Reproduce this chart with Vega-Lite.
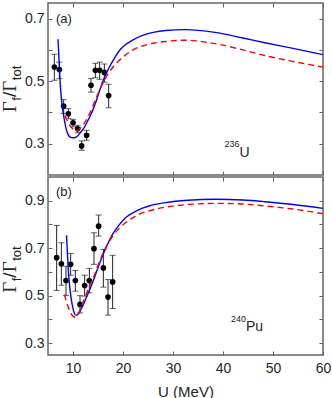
{
  "$schema": "https://vega.github.io/schema/vega-lite/v6.json",
  "padding": {"left": 0, "top": 1, "right": 0, "bottom": 0},
  "spacing": 2,
  "bounds": "flush",
  "config": {
    "view": {"stroke": "#666666", "strokeWidth": 1.5},
    "axis": {"domain": false, "grid": false, "tickSize": -4, "tickColor": "#666666", "tickWidth": 1, "labelFont": "Liberation Sans", "labelFontSize": 14, "labelColor": "#262626", "labelFlush": false, "labelOverlap": false, "titleFont": "Liberation Sans", "titleFontSize": 15, "titleFontWeight": "normal", "titleColor": "#262626"},
    "axisX": {"labelPadding": 10},
    "axisY": {"labelPadding": 8}
  },
  "datasets": {
    "one": [{}],
    "ptsA": [
      {"U": 6.27, "val": 0.545, "lo": 0.503, "hi": 0.586},
      {"U": 7.27, "val": 0.537, "lo": 0.508, "hi": 0.561},
      {"U": 8.13, "val": 0.42, "lo": 0.397, "hi": 0.441},
      {"U": 9.07, "val": 0.396, "lo": 0.38, "hi": 0.412},
      {"U": 10.0, "val": 0.367, "lo": 0.354, "hi": 0.378},
      {"U": 10.93, "val": 0.348, "lo": 0.335, "hi": 0.359},
      {"U": 11.73, "val": 0.293, "lo": 0.279, "hi": 0.309},
      {"U": 12.73, "val": 0.327, "lo": 0.311, "hi": 0.343},
      {"U": 13.6, "val": 0.487, "lo": 0.465, "hi": 0.509},
      {"U": 14.47, "val": 0.535, "lo": 0.511, "hi": 0.557},
      {"U": 15.33, "val": 0.535, "lo": 0.506, "hi": 0.561},
      {"U": 16.27, "val": 0.528, "lo": 0.497, "hi": 0.555},
      {"U": 17.13, "val": 0.454, "lo": 0.415, "hi": 0.49}
    ],
    "ptsB": [
      {"U": 6.73, "val": 0.66, "lo": 0.522, "hi": 0.796},
      {"U": 7.67, "val": 0.634, "lo": 0.544, "hi": 0.723},
      {"U": 8.6, "val": 0.564, "lo": 0.501, "hi": 0.624},
      {"U": 9.53, "val": 0.632, "lo": 0.586, "hi": 0.678},
      {"U": 10.47, "val": 0.564, "lo": 0.519, "hi": 0.606},
      {"U": 11.4, "val": 0.463, "lo": 0.427, "hi": 0.5},
      {"U": 12.33, "val": 0.543, "lo": 0.498, "hi": 0.586},
      {"U": 13.27, "val": 0.564, "lo": 0.512, "hi": 0.615},
      {"U": 14.2, "val": 0.698, "lo": 0.632, "hi": 0.765},
      {"U": 15.13, "val": 0.793, "lo": 0.751, "hi": 0.84},
      {"U": 16.07, "val": 0.617, "lo": 0.536, "hi": 0.695},
      {"U": 17.0, "val": 0.494, "lo": 0.418, "hi": 0.568},
      {"U": 17.93, "val": 0.558, "lo": 0.446, "hi": 0.67}
    ],
    "blueA": [
      {"U": 7.0, "val": 0.634}, {"U": 7.25, "val": 0.555}, {"U": 7.5, "val": 0.479}, {"U": 7.85, "val": 0.42}, {"U": 8.2, "val": 0.383}, {"U": 8.6, "val": 0.35}, {"U": 9.0, "val": 0.33}, {"U": 9.45, "val": 0.321}, {"U": 9.9, "val": 0.319}, {"U": 10.4, "val": 0.32}, {"U": 10.9, "val": 0.325}, {"U": 11.5, "val": 0.336}, {"U": 12.2, "val": 0.351}, {"U": 13.0, "val": 0.375}, {"U": 13.9, "val": 0.405}, {"U": 14.7, "val": 0.44}, {"U": 15.5, "val": 0.479}, {"U": 16.3, "val": 0.512}, {"U": 17.2, "val": 0.543}, {"U": 18.3, "val": 0.574}, {"U": 19.5, "val": 0.602}, {"U": 20.8, "val": 0.62}, {"U": 22.2, "val": 0.634}, {"U": 24.2, "val": 0.648}, {"U": 26.3, "val": 0.657}, {"U": 28.5, "val": 0.662}, {"U": 32.4, "val": 0.665}, {"U": 38.4, "val": 0.656}, {"U": 44, "val": 0.638}, {"U": 48.4, "val": 0.623}, {"U": 54, "val": 0.605}, {"U": 60, "val": 0.585}
    ],
    "redA": [
      {"U": 8.4, "val": 0.39}, {"U": 8.8, "val": 0.375}, {"U": 9.2, "val": 0.362}, {"U": 9.8, "val": 0.35}, {"U": 10.5, "val": 0.341}, {"U": 11.0, "val": 0.342}, {"U": 11.5, "val": 0.351}, {"U": 12.2, "val": 0.364}, {"U": 12.9, "val": 0.383}, {"U": 13.7, "val": 0.41}, {"U": 14.5, "val": 0.442}, {"U": 15.3, "val": 0.47}, {"U": 16.2, "val": 0.5}, {"U": 17.0, "val": 0.523}, {"U": 17.9, "val": 0.543}, {"U": 19.0, "val": 0.563}, {"U": 20.2, "val": 0.58}, {"U": 22.2, "val": 0.602}, {"U": 24.2, "val": 0.614}, {"U": 26.3, "val": 0.622}, {"U": 28.5, "val": 0.627}, {"U": 32.4, "val": 0.631}, {"U": 38.4, "val": 0.62}, {"U": 44, "val": 0.6}, {"U": 48.4, "val": 0.582}, {"U": 54, "val": 0.563}, {"U": 60, "val": 0.545}
    ],
    "blueB": [
      {"U": 8.7, "val": 0.754}, {"U": 8.95, "val": 0.65}, {"U": 9.2, "val": 0.568}, {"U": 9.55, "val": 0.5}, {"U": 9.9, "val": 0.456}, {"U": 10.2, "val": 0.43}, {"U": 10.5, "val": 0.418}, {"U": 10.85, "val": 0.418}, {"U": 11.2, "val": 0.427}, {"U": 11.8, "val": 0.45}, {"U": 12.5, "val": 0.484}, {"U": 13.2, "val": 0.518}, {"U": 13.9, "val": 0.554}, {"U": 14.9, "val": 0.612}, {"U": 15.9, "val": 0.667}, {"U": 16.9, "val": 0.716}, {"U": 17.9, "val": 0.758}, {"U": 19.2, "val": 0.797}, {"U": 20.5, "val": 0.828}, {"U": 21.9, "val": 0.848}, {"U": 23.2, "val": 0.863}, {"U": 25.2, "val": 0.878}, {"U": 28.5, "val": 0.892}, {"U": 33, "val": 0.902}, {"U": 38.4, "val": 0.906}, {"U": 44, "val": 0.903}, {"U": 48.4, "val": 0.896}, {"U": 54, "val": 0.884}, {"U": 60, "val": 0.868}
    ],
    "redB": [
      {"U": 8.3, "val": 0.505}, {"U": 8.9, "val": 0.46}, {"U": 9.5, "val": 0.43}, {"U": 10.0, "val": 0.413}, {"U": 10.4, "val": 0.41}, {"U": 10.9, "val": 0.418}, {"U": 11.7, "val": 0.455}, {"U": 12.5, "val": 0.498}, {"U": 13.3, "val": 0.54}, {"U": 14.2, "val": 0.582}, {"U": 15.0, "val": 0.628}, {"U": 15.9, "val": 0.674}, {"U": 17.0, "val": 0.72}, {"U": 18.2, "val": 0.758}, {"U": 19.3, "val": 0.785}, {"U": 20.5, "val": 0.807}, {"U": 21.9, "val": 0.827}, {"U": 23.2, "val": 0.843}, {"U": 25.2, "val": 0.857}, {"U": 28.5, "val": 0.873}, {"U": 33, "val": 0.884}, {"U": 38.4, "val": 0.889}, {"U": 44, "val": 0.886}, {"U": 48.4, "val": 0.878}, {"U": 54, "val": 0.865}, {"U": 60, "val": 0.845}
    ]
  },
  "vconcat": [
    {
      "width": 275,
      "height": 172,
      "resolve": {"axis": {"x": "independent", "y": "independent"}},
      "layer": [
        {
          "data": {"name": "ptsA"},
          "mark": {"type": "rule", "color": "#222222", "strokeWidth": 1},
          "encoding": {
            "x": {"field": "U", "type": "quantitative", "scale": {"domain": [5, 60], "nice": false, "zero": false}, "axis": {"orient": "bottom", "values": [10, 20, 30, 40, 50, 60], "labels": false, "title": null}},
            "y": {"field": "lo", "type": "quantitative", "scale": {"domain": [0.2, 0.75], "nice": false, "zero": false}, "axis": {"orient": "left", "values": [0.3, 0.4, 0.5, 0.6, 0.7], "labelExpr": "round(datum.value*10) % 2 === 1 ? format(datum.value, '.1f') : ''", "title": null}},
            "y2": {"field": "hi"}
          }
        },
        {
          "data": {"name": "ptsA"},
          "mark": {"type": "tick", "orient": "horizontal", "color": "#222222", "size": 6, "thickness": 1},
          "encoding": {
            "x": {"field": "U", "type": "quantitative", "scale": {"domain": [5, 60], "nice": false, "zero": false}, "axis": null},
            "y": {"field": "lo", "type": "quantitative", "scale": {"domain": [0.2, 0.75], "nice": false, "zero": false}, "axis": null}
          }
        },
        {
          "data": {"name": "ptsA"},
          "mark": {"type": "tick", "orient": "horizontal", "color": "#222222", "size": 6, "thickness": 1},
          "encoding": {
            "x": {"field": "U", "type": "quantitative", "scale": {"domain": [5, 60], "nice": false, "zero": false}, "axis": null},
            "y": {"field": "hi", "type": "quantitative", "scale": {"domain": [0.2, 0.75], "nice": false, "zero": false}, "axis": null}
          }
        },
        {
          "data": {"name": "ptsA"},
          "mark": {"type": "point", "filled": true, "color": "#000000", "size": 32, "opacity": 1},
          "encoding": {
            "x": {"field": "U", "type": "quantitative", "scale": {"domain": [5, 60], "nice": false, "zero": false}, "axis": null},
            "y": {"field": "val", "type": "quantitative", "scale": {"domain": [0.2, 0.75], "nice": false, "zero": false}, "axis": null}
          }
        },
        {
          "data": {"name": "blueA"},
          "mark": {"type": "line", "color": "#0000ff", "strokeWidth": 1.4, "interpolate": "monotone"},
          "encoding": {
            "x": {"field": "U", "type": "quantitative", "scale": {"domain": [5, 60], "nice": false, "zero": false}, "axis": {"orient": "top", "values": [10, 20, 30, 40, 50, 60], "labels": false, "title": null}},
            "y": {"field": "val", "type": "quantitative", "scale": {"domain": [0.2, 0.75], "nice": false, "zero": false}, "axis": {"orient": "right", "values": [0.3, 0.4, 0.5, 0.6, 0.7], "labels": false, "title": null}}
          }
        },
        {
          "data": {"name": "redA"},
          "mark": {"type": "line", "color": "#ff0000", "strokeWidth": 1.4, "strokeDash": [6, 4], "interpolate": "monotone"},
          "encoding": {
            "x": {"field": "U", "type": "quantitative", "scale": {"domain": [5, 60], "nice": false, "zero": false}, "axis": null},
            "y": {"field": "val", "type": "quantitative", "scale": {"domain": [0.2, 0.75], "nice": false, "zero": false}, "axis": null}
          }
        },
        {
          "data": {"name": "one"},
          "mark": {"type": "text", "text": "(a)", "font": "Liberation Sans", "fontSize": 13, "align": "left", "baseline": "middle", "color": "#262626"},
          "encoding": {"x": {"datum": 6.6, "type": "quantitative", "axis": null}, "y": {"datum": 0.699, "type": "quantitative", "axis": null}}
        },
        {
          "data": {"name": "one"},
          "mark": {"type": "text", "text": "U", "font": "Liberation Sans", "fontSize": 14, "align": "left", "baseline": "alphabetic", "color": "#262626"},
          "encoding": {"x": {"datum": 43.3, "type": "quantitative", "axis": null}, "y": {"datum": 0.2575, "type": "quantitative", "axis": null}}
        },
        {
          "data": {"name": "one"},
          "mark": {"type": "text", "text": "236", "font": "Liberation Sans", "fontSize": 9, "align": "right", "baseline": "alphabetic", "dy": -10, "color": "#262626"},
          "encoding": {"x": {"datum": 43.3, "type": "quantitative", "axis": null}, "y": {"datum": 0.2575, "type": "quantitative", "axis": null}}
        },
        {
          "data": {"name": "one"},
          "mark": {"type": "text", "text": "Γ", "font": "Liberation Serif", "fontSize": 19, "angle": 270, "align": "left", "baseline": "alphabetic", "dx": -23.3, "dy": -32, "color": "#262626"},
          "encoding": {"x": {"datum": 5, "type": "quantitative", "axis": null}, "y": {"datum": 0.475, "type": "quantitative", "axis": null}}
        },
        {
          "data": {"name": "one"},
          "mark": {"type": "text", "text": "f", "font": "Liberation Sans", "fontSize": 13, "angle": 270, "align": "left", "baseline": "alphabetic", "dx": -11.7, "dy": -27, "color": "#262626"},
          "encoding": {"x": {"datum": 5, "type": "quantitative", "axis": null}, "y": {"datum": 0.475, "type": "quantitative", "axis": null}}
        },
        {
          "data": {"name": "one"},
          "mark": {"type": "text", "text": "/", "font": "Liberation Sans", "fontSize": 19, "angle": 270, "align": "left", "baseline": "alphabetic", "dx": -8.1, "dy": -32, "color": "#262626"},
          "encoding": {"x": {"datum": 5, "type": "quantitative", "axis": null}, "y": {"datum": 0.475, "type": "quantitative", "axis": null}}
        },
        {
          "data": {"name": "one"},
          "mark": {"type": "text", "text": "Γ", "font": "Liberation Serif", "fontSize": 19, "angle": 270, "align": "left", "baseline": "alphabetic", "dx": -2.8, "dy": -32, "color": "#262626"},
          "encoding": {"x": {"datum": 5, "type": "quantitative", "axis": null}, "y": {"datum": 0.475, "type": "quantitative", "axis": null}}
        },
        {
          "data": {"name": "one"},
          "mark": {"type": "text", "text": "tot", "font": "Liberation Sans", "fontSize": 13, "angle": 270, "align": "left", "baseline": "alphabetic", "dx": 8.8, "dy": -27, "color": "#262626"},
          "encoding": {"x": {"datum": 5, "type": "quantitative", "axis": null}, "y": {"datum": 0.475, "type": "quantitative", "axis": null}}
        }
      ]
    },
    {
      "width": 275,
      "height": 178,
      "resolve": {"axis": {"x": "independent", "y": "independent"}},
      "layer": [
        {
          "data": {"name": "ptsB"},
          "mark": {"type": "rule", "color": "#222222", "strokeWidth": 1},
          "encoding": {
            "x": {"field": "U", "type": "quantitative", "scale": {"domain": [5, 60], "nice": false, "zero": false}, "axis": {"orient": "bottom", "values": [10, 20, 30, 40, 50, 60], "title": "U (MeV)", "titlePadding": 9}},
            "y": {"field": "lo", "type": "quantitative", "scale": {"domain": [0.25, 1.0], "nice": false, "zero": false}, "axis": {"orient": "left", "values": [0.3, 0.4, 0.5, 0.6, 0.7, 0.8, 0.9], "labelExpr": "round(datum.value*10) % 2 === 1 ? format(datum.value, '.1f') : ''", "title": null}},
            "y2": {"field": "hi"}
          }
        },
        {
          "data": {"name": "ptsB"},
          "mark": {"type": "tick", "orient": "horizontal", "color": "#222222", "size": 6, "thickness": 1},
          "encoding": {
            "x": {"field": "U", "type": "quantitative", "scale": {"domain": [5, 60], "nice": false, "zero": false}, "axis": null},
            "y": {"field": "lo", "type": "quantitative", "scale": {"domain": [0.25, 1.0], "nice": false, "zero": false}, "axis": null}
          }
        },
        {
          "data": {"name": "ptsB"},
          "mark": {"type": "tick", "orient": "horizontal", "color": "#222222", "size": 6, "thickness": 1},
          "encoding": {
            "x": {"field": "U", "type": "quantitative", "scale": {"domain": [5, 60], "nice": false, "zero": false}, "axis": null},
            "y": {"field": "hi", "type": "quantitative", "scale": {"domain": [0.25, 1.0], "nice": false, "zero": false}, "axis": null}
          }
        },
        {
          "data": {"name": "ptsB"},
          "mark": {"type": "point", "filled": true, "color": "#000000", "size": 32, "opacity": 1},
          "encoding": {
            "x": {"field": "U", "type": "quantitative", "scale": {"domain": [5, 60], "nice": false, "zero": false}, "axis": null},
            "y": {"field": "val", "type": "quantitative", "scale": {"domain": [0.25, 1.0], "nice": false, "zero": false}, "axis": null}
          }
        },
        {
          "data": {"name": "blueB"},
          "mark": {"type": "line", "color": "#0000ff", "strokeWidth": 1.4, "interpolate": "monotone"},
          "encoding": {
            "x": {"field": "U", "type": "quantitative", "scale": {"domain": [5, 60], "nice": false, "zero": false}, "axis": {"orient": "top", "values": [10, 20, 30, 40, 50, 60], "labels": false, "title": null}},
            "y": {"field": "val", "type": "quantitative", "scale": {"domain": [0.25, 1.0], "nice": false, "zero": false}, "axis": {"orient": "right", "values": [0.3, 0.4, 0.5, 0.6, 0.7, 0.8, 0.9], "labels": false, "title": null}}
          }
        },
        {
          "data": {"name": "redB"},
          "mark": {"type": "line", "color": "#ff0000", "strokeWidth": 1.4, "strokeDash": [6, 4], "interpolate": "monotone"},
          "encoding": {
            "x": {"field": "U", "type": "quantitative", "scale": {"domain": [5, 60], "nice": false, "zero": false}, "axis": null},
            "y": {"field": "val", "type": "quantitative", "scale": {"domain": [0.25, 1.0], "nice": false, "zero": false}, "axis": null}
          }
        },
        {
          "data": {"name": "one"},
          "mark": {"type": "text", "text": "(b)", "font": "Liberation Sans", "fontSize": 13, "align": "left", "baseline": "middle", "color": "#262626"},
          "encoding": {"x": {"datum": 6.6, "type": "quantitative", "axis": null}, "y": {"datum": 0.937, "type": "quantitative", "axis": null}}
        },
        {
          "data": {"name": "one"},
          "mark": {"type": "text", "text": "Pu", "font": "Liberation Sans", "fontSize": 14, "align": "left", "baseline": "alphabetic", "color": "#262626"},
          "encoding": {"x": {"datum": 44.6, "type": "quantitative", "axis": null}, "y": {"datum": 0.35, "type": "quantitative", "axis": null}}
        },
        {
          "data": {"name": "one"},
          "mark": {"type": "text", "text": "240", "font": "Liberation Sans", "fontSize": 9, "align": "right", "baseline": "alphabetic", "dy": -9, "color": "#262626"},
          "encoding": {"x": {"datum": 44.6, "type": "quantitative", "axis": null}, "y": {"datum": 0.35, "type": "quantitative", "axis": null}}
        },
        {
          "data": {"name": "one"},
          "mark": {"type": "text", "text": "Γ", "font": "Liberation Serif", "fontSize": 19, "angle": 270, "align": "left", "baseline": "alphabetic", "dx": -23.3, "dy": -32, "color": "#262626"},
          "encoding": {"x": {"datum": 5, "type": "quantitative", "axis": null}, "y": {"datum": 0.61, "type": "quantitative", "axis": null}}
        },
        {
          "data": {"name": "one"},
          "mark": {"type": "text", "text": "f", "font": "Liberation Sans", "fontSize": 13, "angle": 270, "align": "left", "baseline": "alphabetic", "dx": -11.7, "dy": -27, "color": "#262626"},
          "encoding": {"x": {"datum": 5, "type": "quantitative", "axis": null}, "y": {"datum": 0.61, "type": "quantitative", "axis": null}}
        },
        {
          "data": {"name": "one"},
          "mark": {"type": "text", "text": "/", "font": "Liberation Sans", "fontSize": 19, "angle": 270, "align": "left", "baseline": "alphabetic", "dx": -8.1, "dy": -32, "color": "#262626"},
          "encoding": {"x": {"datum": 5, "type": "quantitative", "axis": null}, "y": {"datum": 0.61, "type": "quantitative", "axis": null}}
        },
        {
          "data": {"name": "one"},
          "mark": {"type": "text", "text": "Γ", "font": "Liberation Serif", "fontSize": 19, "angle": 270, "align": "left", "baseline": "alphabetic", "dx": -2.8, "dy": -32, "color": "#262626"},
          "encoding": {"x": {"datum": 5, "type": "quantitative", "axis": null}, "y": {"datum": 0.61, "type": "quantitative", "axis": null}}
        },
        {
          "data": {"name": "one"},
          "mark": {"type": "text", "text": "tot", "font": "Liberation Sans", "fontSize": 13, "angle": 270, "align": "left", "baseline": "alphabetic", "dx": 8.8, "dy": -27, "color": "#262626"},
          "encoding": {"x": {"datum": 5, "type": "quantitative", "axis": null}, "y": {"datum": 0.61, "type": "quantitative", "axis": null}}
        }
      ]
    }
  ]
}
